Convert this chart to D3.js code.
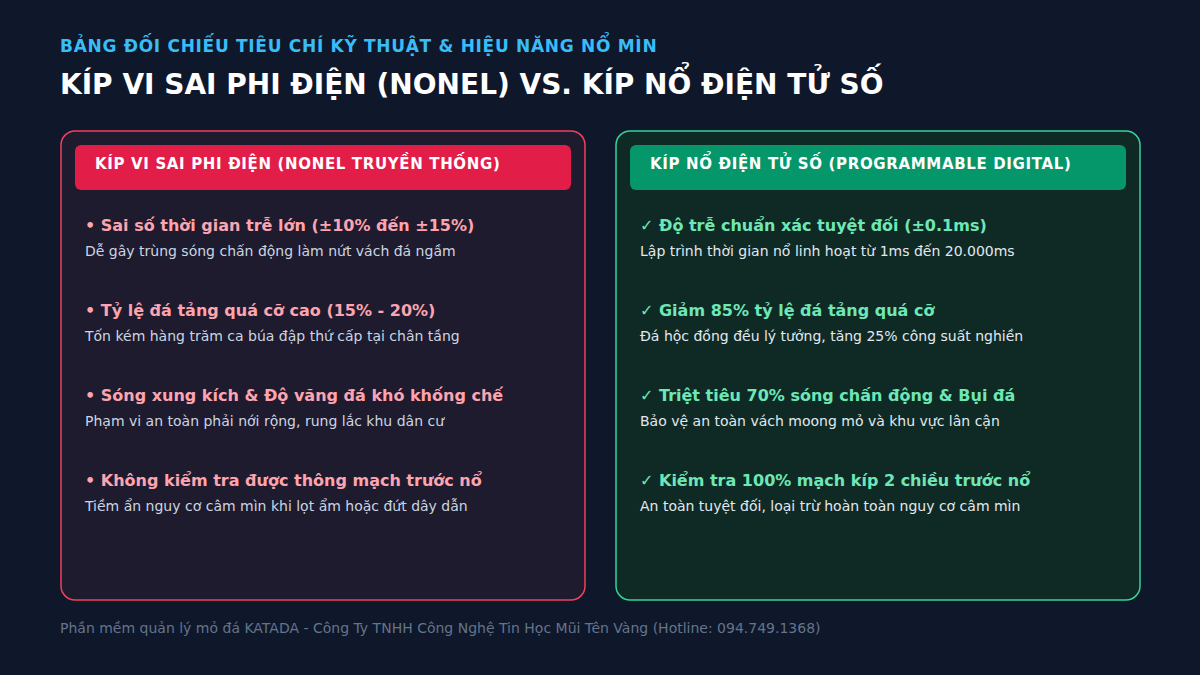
<!DOCTYPE html>
<html><head><meta charset="utf-8">
<script src="https://cdn.jsdelivr.net/npm/d3@7"></script>
<style>body{margin:0;background:#0f172a}svg{display:block}text{font-family:"DejaVu Sans",sans-serif}</style>
</head><body><svg id="c" width="1200" height="675"></svg>
<script>
const subtitle = "BẢNG ĐỐI CHIẾU TIÊU CHÍ KỸ THUẬT & HIỆU NĂNG NỔ MÌN";
const title = "KÍP VI SAI PHI ĐIỆN (NONEL) VS. KÍP NỔ ĐIỆN TỬ SỐ";
const footer = "Phần mềm quản lý mỏ đá KATADA - Công Ty TNHH Công Nghệ Tin Học Mũi Tên Vàng (Hotline: 094.749.1368)";
const panelHeaders = ["KÍP VI SAI PHI ĐIỆN (NONEL TRUYỀN THỐNG)", "KÍP NỔ ĐIỆN TỬ SỐ (PROGRAMMABLE DIGITAL)"];
const leftTitles = ["• Sai số thời gian trễ lớn (±10% đến ±15%)","• Tỷ lệ đá tảng quá cỡ cao (15% - 20%)","• Sóng xung kích & Độ văng đá khó khống chế","• Không kiểm tra được thông mạch trước nổ"];
const leftDescs = ["Dễ gây trùng sóng chấn động làm nứt vách đá ngầm","Tốn kém hàng trăm ca búa đập thứ cấp tại chân tầng","Phạm vi an toàn phải nới rộng, rung lắc khu dân cư","Tiềm ẩn nguy cơ câm mìn khi lọt ẩm hoặc đứt dây dẫn"];
const rightTitles = ["✓ Độ trễ chuẩn xác tuyệt đối (±0.1ms)","✓ Giảm 85% tỷ lệ đá tảng quá cỡ","✓ Triệt tiêu 70% sóng chấn động & Bụi đá","✓ Kiểm tra 100% mạch kíp 2 chiều trước nổ"];
const rightDescs = ["Lập trình thời gian nổ linh hoạt từ 1ms đến 20.000ms","Đá hộc đồng đều lý tưởng, tăng 25% công suất nghiền","Bảo vệ an toàn vách moong mỏ và khu vực lân cận","An toàn tuyệt đối, loại trừ hoàn toàn nguy cơ câm mìn"];

const svg = d3.select("#c");
svg.append("rect").attr("width",1200).attr("height",675).attr("fill","#0f172a");
svg.append("text").attr("x",60).attr("y",52).attr("fill","#38bdf8").attr("font-size",17).attr("font-weight","bold").attr("letter-spacing",0.7).text(subtitle);
svg.append("text").attr("x",60).attr("y",94).attr("fill","#ffffff").attr("font-size",28).attr("font-weight","bold").text(title);
svg.append("text").attr("x",60).attr("y",633).attr("fill","#64748b").attr("font-size",14).text(footer);

const panels = [
 {x:61, fill:"#1e1b2e", stroke:"#f43f5e", head:"#e11d48", tc:"#fda4af", dc:"#cbd5e1", titles:leftTitles, descs:leftDescs, h:panelHeaders[0]},
 {x:616, fill:"#0f2a24", stroke:"#34d399", head:"#059669", tc:"#6ee7b7", dc:"#e2e8f0", titles:rightTitles, descs:rightDescs, h:panelHeaders[1]}
];
const yItem = d3.scalePoint().domain(d3.range(4)).range([225,480]);
panels.forEach(p=>{
  const g = svg.append("g").attr("transform",`translate(${p.x},131)`);
  g.append("rect").attr("width",524).attr("height",469).attr("rx",14).attr("fill",p.fill).attr("stroke",p.stroke).attr("stroke-width",1.5);
  g.append("rect").attr("x",14).attr("y",14).attr("width",496).attr("height",45).attr("rx",6).attr("fill",p.head);
  g.append("text").attr("x",34).attr("y",38).attr("fill","#fff").attr("font-size",15).attr("font-weight","bold").attr("letter-spacing",0.65).text(p.h);
  p.titles.forEach((t,i)=>{
    const y = yItem(i)-131;
    g.append("text").attr("x",24).attr("y",y+6).attr("fill",p.tc).attr("font-size",16).attr("font-weight","bold").text(t);
    g.append("text").attr("x",24).attr("y",y+31).attr("fill",p.dc).attr("font-size",14).text(p.descs[i]);
  });
});
</script></body></html>
